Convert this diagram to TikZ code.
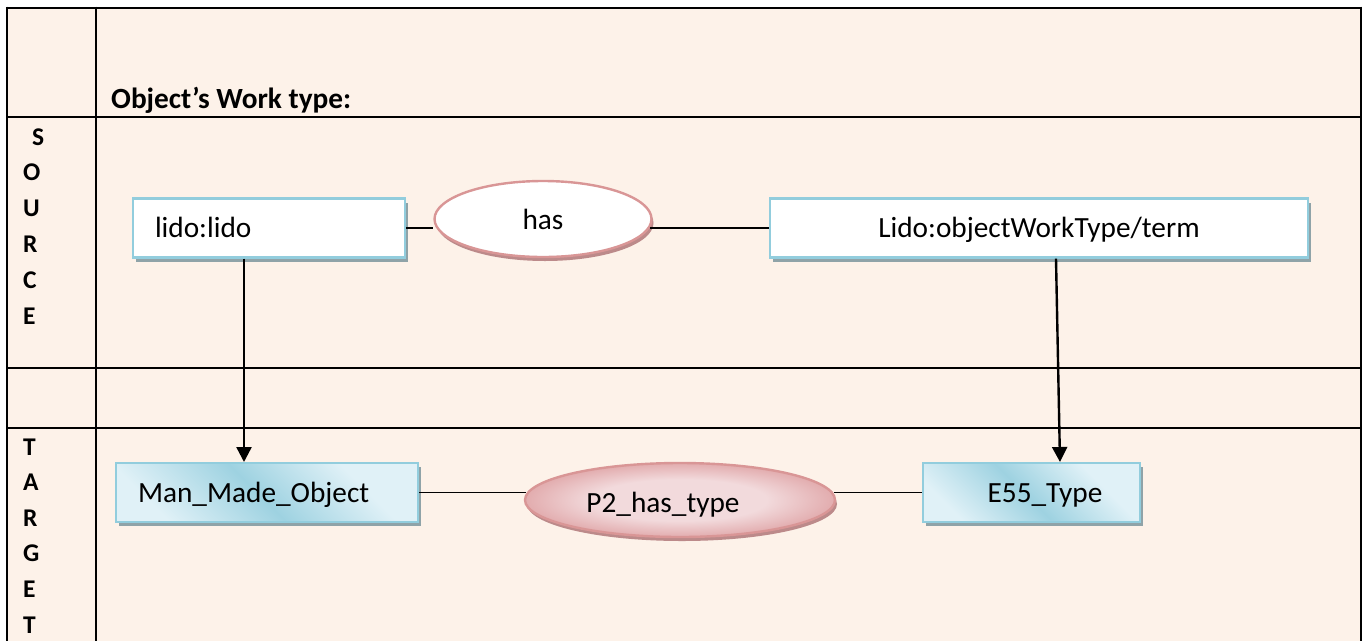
\documentclass[tikz,border=0pt]{standalone}
\usepackage{fontspec}
\setmainfont{Carlito}
\usetikzlibrary{shapes.geometric,shadows,arrows.meta,calc}

\definecolor{peach}{RGB}{253,242,233}
\definecolor{boxrim}{RGB}{146,205,221}
\definecolor{boxshadow}{RGB}{143,163,168}
\definecolor{bxlight}{RGB}{224,241,247}
\definecolor{bxdark}{RGB}{158,210,225}
\definecolor{pkrim}{RGB}{217,150,150}
\definecolor{pklight}{RGB}{242,218,220}
\definecolor{pkdark}{RGB}{226,172,174}
\definecolor{pkshadow}{RGB}{188,138,138}

% diagonal light/dark/light band used on the target boxes
\pgfdeclarehorizontalshading{blueband}{100bp}{color(0bp)=(bxlight); color(25bp)=(bxlight); color(48bp)=(bxdark); color(70bp)=(bxlight); color(100bp)=(bxlight)}
% soft pink glow for the target property ellipse
\pgfdeclareradialshading{pinkglow}{\pgfpoint{0bp}{0bp}}{color(0bp)=(pklight); color(14bp)=(pklight); color(25bp)=(pkdark); color(50bp)=(pkdark)}

\tikzset{
  tbl/.style={line width=2.6pt, black},
  txt/.style={font=\fontsize{29.3}{34}\selectfont},
  lbl/.style={font=\fontsize{25.5}{30}\selectfont\bfseries, inner sep=0pt},
  boxtext/.style={txt, text height=26pt, text depth=6.5pt},
  srcbox/.style={boxtext, rectangle, draw=boxrim, line width=2.2pt, fill=white,
    minimum height=59pt, inner ysep=0pt,
    drop shadow={shadow xshift=3pt, shadow yshift=-4pt, fill=boxshadow, opacity=1}},
  tgtbox/.style={boxtext, rectangle, draw=boxrim, line width=2pt, shading=blueband, shading angle=45,
    minimum height=59pt, inner ysep=0pt,
    drop shadow={shadow xshift=3pt, shadow yshift=-4pt, fill=boxshadow, opacity=1}},
  srcprop/.style={txt, ellipse, draw=pkrim, line width=2.4pt, fill=white, inner sep=0pt,
    drop shadow={shadow xshift=2pt, shadow yshift=-4pt, fill=pkshadow, opacity=1}},
  tgtprop/.style={txt, ellipse, draw=pkrim, line width=2.4pt, shading=pinkglow, inner sep=0pt,
    drop shadow={shadow xshift=2pt, shadow yshift=-4pt, fill=pkshadow, opacity=1}},
  conn/.style={line width=1.8pt, black},
  arr/.style={line width=2.4pt, black, -{Triangle[width=15pt,length=15pt]}},
}

\begin{document}
\begin{tikzpicture}[x=1pt,y=-1pt]
\useasboundingbox (0,0) rectangle (1363,641);
\fill[white] (0,0) rectangle (1363,641);
\fill[peach] (7,8) rectangle (1361,641);

% table grid
\draw[tbl] (7,8) -- (1361,8);
\draw[tbl] (7,117) -- (1361,117);
\draw[tbl] (7,368) -- (1361,368);
\draw[tbl] (7,428) -- (1361,428);
\draw[tbl] (7,6.7) -- (7,641);
\draw[tbl] (96,6.7) -- (96,641);
\draw[tbl] (1361,6.7) -- (1361,641);

% header
\node[lbl, font=\fontsize{29.3}{34}\selectfont\bfseries, anchor=base west] (title) at (111,108) {Object’s Work type:};

% row labels
\node[lbl, anchor=base west] (src0) at (32,145) {S};
\foreach \ch [count=\i] in {O,U,R,C,E}
  \node[lbl, anchor=base west] (src\i) at (23,145+35.8*\i) {\ch};
\foreach \ch [count=\i from 0] in {T,A,R,G,E,T}
  \node[lbl, anchor=base west] (tgt\i) at (23,455+35.6*\i) {\ch};

% source side
\node[srcbox, text width=228pt, inner xsep=22pt, align=left] (lido) at (269,228) {lido:lido};
\node[srcprop, minimum width=217pt, minimum height=76pt, text height=26pt, text depth=6pt] (has) at (543,219) {has};
\node[srcbox, minimum width=538pt] (term) at (1039,228) {Lido:objectWorkType/term};

% target side
\node[tgtbox, text width=258pt, inner xsep=22pt, align=left] (man) at (267,492.5) {Man\_Made\_Object};
\node[tgtprop, minimum width=310pt, minimum height=74pt, text height=30pt, text depth=6pt] (p2) at (680,500) {P2\_has\_type\hspace*{34pt}};
\node[tgtbox, minimum width=217pt] (e55) at (1031.5,492.5) {\hspace*{27pt}E55\_Type};

% property links
\draw[conn] (lido.east) -- (lido.east -| has.west);
\draw[conn] ([xshift=-3pt]has.east |- term.west) -- (term.west);
\draw[conn] (man.east) -- ([xshift=2pt]man.east -| p2.west);
\draw[conn] ([xshift=-2pt]p2.east |- e55.west) -- (e55.west);

% source-to-target mappings
\draw[arr] ([xshift=-25pt]lido.south) -- ([xshift=-25pt]lido.south |- man.north);
\draw[arr] ([xshift=17pt]term.south) -- ([xshift=28.5pt]e55.north);
\end{tikzpicture}
\end{document}
